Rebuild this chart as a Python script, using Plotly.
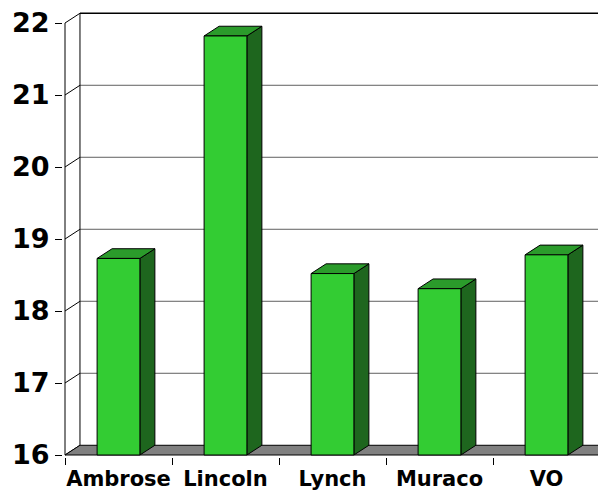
import plotly.graph_objects as go

# ---- data ----
categories = ["Ambrose", "Lincoln", "Lynch", "Muraco", "VO"]
values = [18.73, 21.82, 18.52, 18.31, 18.78]
y_ticks = [16, 17, 18, 19, 20, 21, 22]

# ---- pseudo-3D geometry (in axis units) ----
DX = 0.14      # depth offset along x (category units)
DY = 0.135     # depth offset along y (value units)
BAR_W = 0.40
Y_BASE = y_ticks[0]
Y_TOP = y_ticks[-1]
XL = -0.5
XR = len(categories) - 0.5

PX_X = 107.0   # pixels per category
PX_Y = 72.0    # pixels per value unit
# page has an 8px body margin; figure sized to fit the 606x491 window
W, H = 598, 483
ML, MR, MT, MB = 55, 0, 0, 34
x0 = XL - 2 / PX_X
x1 = x0 + (W - ML - MR) / PX_X
y0 = Y_BASE - 2 / PX_Y
y1 = y0 + (H - MT - MB) / PX_Y

FRONT = "#33cc33"
TOP = "#2b9b2b"
SIDE = "#1e661e"
FLOOR = "#808080"

fig = go.Figure()


def poly(xs, ys, fill, lc="black", lw=1):
    fig.add_trace(go.Scatter(x=xs + [xs[0]], y=ys + [ys[0]], mode="lines",
                             fill="toself", fillcolor=fill,
                             line=dict(color=lc, width=lw),
                             hoverinfo="skip", showlegend=False))


def lines(xs, ys, color, width=1):
    fig.add_trace(go.Scatter(x=xs, y=ys, mode="lines",
                             line=dict(color=color, width=width),
                             hoverinfo="skip", showlegend=False))


# back wall gridlines
gx, gy = [], []
for t in y_ticks[1:-1]:
    gx += [XL + DX, x1 + 1, None]
    gy += [t + DY, t + DY, None]
lines(gx, gy, "#606060", 1)
# back wall top edge
lines([XL + DX, x1 + 1], [Y_TOP + DY, Y_TOP + DY], "black", 1.5)
# back wall left edge
lines([XL + DX, XL + DX], [Y_BASE + DY, Y_TOP + DY], "black", 1)
# side wall diagonals
dx_, dy_ = [], []
for t in y_ticks:
    dx_ += [XL, XL + DX, None]
    dy_ += [t, t + DY, None]
lines(dx_, dy_, "black", 1)
# front value axis line
lines([XL, XL], [Y_BASE, Y_TOP], "black", 1)

# floor
poly([XL, XR, XR + DX, XL + DX], [Y_BASE, Y_BASE, Y_BASE + DY, Y_BASE + DY], FLOOR)

# bars
for i, v in enumerate(values):
    a = i - BAR_W / 2
    b = i + BAR_W / 2
    poly([b, b + DX, b + DX, b], [Y_BASE, Y_BASE + DY, v + DY, v], SIDE)
    poly([a, b, b + DX, a + DX], [v, v, v + DY, v + DY], TOP)
    poly([a, b, b, a], [Y_BASE, Y_BASE, v, v], FRONT)

fig.update_layout(
    width=W, height=H,
    margin=dict(l=ML, r=MR, t=MT, b=MB, pad=0),
    paper_bgcolor="white", plot_bgcolor="white",
    showlegend=False,
    xaxis=dict(range=[x0, x1], tickmode="array",
               tickvals=list(range(len(categories))), ticktext=categories,
               ticks="", showgrid=False, zeroline=False, showline=False,
               automargin=False, fixedrange=True, ticklabelstandoff=7,
               ticklabeloverflow="allow",
               tickfont=dict(family="DejaVu Sans", size=21, color="black", weight="bold"),
               minor=dict(tickmode="linear", tick0=XL, dtick=1, ticks="outside",
                          ticklen=7, tickwidth=1, tickcolor="black", showgrid=False)),
    yaxis=dict(range=[y0, y1], tickmode="array", tickvals=y_ticks,
               ticktext=[str(t) for t in y_ticks],
               ticks="outside", ticklen=7, tickwidth=1, tickcolor="black",
               showgrid=False, zeroline=False, showline=False,
               automargin=False, fixedrange=True, ticklabelstandoff=0,
               ticklabeloverflow="allow",
               tickfont=dict(family="DejaVu Sans", size=27, color="black", weight="bold")),
)

fig.write_html("out.html")
